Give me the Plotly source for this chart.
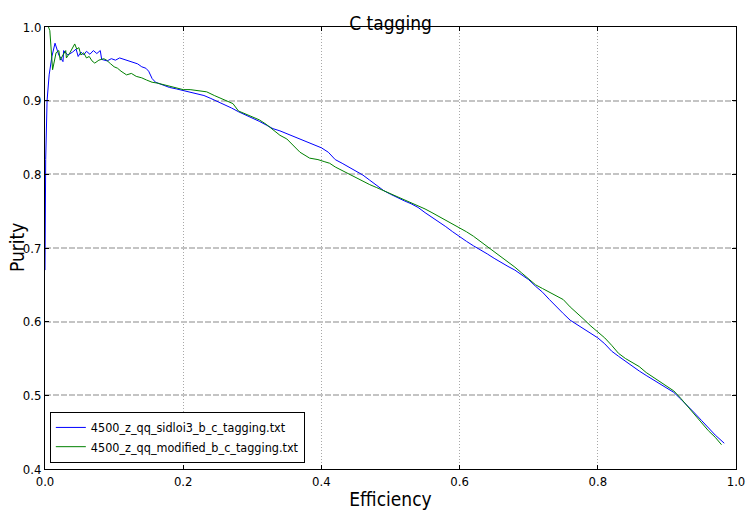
import plotly.graph_objects as go

title_text = "C tagging"
x_label = "Efficiency"
y_label = "Purity"
name_blue = "4500_z_qq_sidloi3_b_c_tagging.txt"
name_green = "4500_z_qq_modified_b_c_tagging.txt"

x_ticks = [0.0, 0.2, 0.4, 0.6, 0.8, 1.0]
y_ticks = [0.4, 0.5, 0.6, 0.7, 0.8, 0.9, 1.0]

blue_x = [0.000, 0.001, 0.003, 0.006, 0.010, 0.0145, 0.020, 0.026, 0.027, 0.033, 0.040, 0.045, 0.048,
          0.052, 0.056, 0.060, 0.065, 0.070, 0.075, 0.080, 0.082, 0.090, 0.096, 0.102, 0.108, 0.114,
          0.120, 0.127, 0.134, 0.140, 0.146, 0.150, 0.155, 0.160, 0.170, 0.180, 0.190, 0.200, 0.210,
          0.220, 0.230, 0.240, 0.250, 0.260, 0.270, 0.280, 0.290, 0.300, 0.310, 0.320, 0.330, 0.340,
          0.350, 0.360, 0.370, 0.380, 0.390, 0.400, 0.410, 0.420, 0.430, 0.440, 0.450, 0.460, 0.470,
          0.480, 0.490, 0.500, 0.510, 0.520, 0.530, 0.540, 0.550, 0.560, 0.570, 0.580, 0.590, 0.600,
          0.610, 0.620, 0.630, 0.640, 0.650, 0.660, 0.670, 0.680, 0.690, 0.700, 0.710, 0.720, 0.730,
          0.740, 0.750, 0.760, 0.770, 0.780, 0.790, 0.800, 0.810, 0.820, 0.830, 0.840, 0.850, 0.860,
          0.870, 0.880, 0.890, 0.900, 0.910, 0.920, 0.930, 0.940, 0.950, 0.960, 0.970, 0.983]
blue_y = [0.670, 0.820, 0.900, 0.935, 0.960, 0.978, 0.962, 0.953, 0.968, 0.962, 0.966, 0.970, 0.960,
          0.966, 0.962, 0.967, 0.963, 0.968, 0.964, 0.968, 0.956, 0.954, 0.957, 0.955, 0.958, 0.956,
          0.954, 0.952, 0.950, 0.946, 0.944, 0.940, 0.930, 0.925, 0.921, 0.918, 0.916, 0.914, 0.912,
          0.909, 0.907, 0.903, 0.899, 0.895, 0.890, 0.885, 0.881, 0.877, 0.872, 0.867, 0.862, 0.859,
          0.855, 0.851, 0.847, 0.843, 0.840, 0.836, 0.830, 0.820, 0.815, 0.810, 0.805, 0.799, 0.792,
          0.785, 0.778, 0.773, 0.768, 0.764, 0.760, 0.755, 0.748, 0.742, 0.736, 0.729, 0.722, 0.715,
          0.709, 0.703, 0.698, 0.692, 0.686, 0.680, 0.675, 0.670, 0.664, 0.657, 0.648, 0.640, 0.630,
          0.620, 0.611, 0.602, 0.596, 0.590, 0.583, 0.578, 0.570, 0.560, 0.553, 0.546, 0.539, 0.533,
          0.527, 0.521, 0.515, 0.510, 0.504, 0.495, 0.486, 0.476, 0.466, 0.456, 0.446, 0.435]

green_x = [0.005, 0.007, 0.011, 0.016, 0.020, 0.022, 0.026, 0.030, 0.031, 0.036, 0.043, 0.046, 0.049,
           0.052, 0.056, 0.060, 0.064, 0.068, 0.072, 0.078, 0.085, 0.089, 0.095, 0.100, 0.105, 0.110,
           0.118, 0.125, 0.132, 0.140, 0.147, 0.155, 0.162, 0.170, 0.180, 0.190, 0.200, 0.210, 0.220,
           0.234, 0.245, 0.255, 0.265, 0.272, 0.280, 0.290, 0.300, 0.310, 0.320, 0.330, 0.340, 0.350,
           0.360, 0.369, 0.383, 0.395, 0.405, 0.412, 0.420, 0.430, 0.440, 0.450, 0.460, 0.470, 0.480,
           0.490, 0.500, 0.510, 0.520, 0.530, 0.540, 0.550, 0.560, 0.570, 0.580, 0.590, 0.600, 0.610,
           0.620, 0.630, 0.640, 0.650, 0.660, 0.670, 0.680, 0.690, 0.700, 0.710, 0.720, 0.730, 0.740,
           0.750, 0.760, 0.770, 0.780, 0.790, 0.800, 0.810, 0.820, 0.830, 0.840, 0.850, 0.860, 0.870,
           0.880, 0.890, 0.900, 0.910, 0.920, 0.930, 0.940, 0.950, 0.960, 0.970, 0.979]
green_y = [1.000, 0.995, 0.942, 0.965, 0.968, 0.955, 0.962, 0.968, 0.958, 0.965, 0.977, 0.970, 0.972,
           0.962, 0.965, 0.958, 0.960, 0.954, 0.951, 0.955, 0.957, 0.955, 0.950, 0.946, 0.944, 0.940,
           0.935, 0.937, 0.933, 0.931, 0.928, 0.925, 0.924, 0.922, 0.920, 0.917, 0.915, 0.915, 0.914,
           0.912, 0.907, 0.903, 0.899, 0.896, 0.886, 0.882, 0.879, 0.874, 0.868, 0.860, 0.853, 0.848,
           0.838, 0.830, 0.822, 0.820, 0.817, 0.815, 0.810, 0.805, 0.800, 0.795, 0.790, 0.786, 0.782,
           0.778, 0.774, 0.770, 0.766, 0.762, 0.758, 0.753, 0.748, 0.743, 0.737, 0.732, 0.727, 0.722,
           0.716, 0.709, 0.702, 0.696, 0.689, 0.682, 0.674, 0.666, 0.658, 0.650, 0.645, 0.640, 0.636,
           0.630, 0.620, 0.612, 0.603, 0.594, 0.586, 0.578, 0.568, 0.557, 0.550, 0.545, 0.539, 0.531,
           0.525, 0.519, 0.513, 0.506, 0.496, 0.485, 0.473, 0.462, 0.452, 0.443, 0.433]

FONT = "DejaVu Sans Condensed, DejaVu Sans, sans-serif"

fig = go.Figure()
fig.add_trace(go.Scatter(x=blue_x, y=blue_y, mode="lines", name=name_blue,
                         line=dict(color="#0000ff", width=1)))
fig.add_trace(go.Scatter(x=green_x, y=green_y, mode="lines", name=name_green,
                         line=dict(color="#008000", width=1)))

fig.update_layout(
    width=749, height=510,
    margin=dict(l=45, r=13, t=27, b=41),
    paper_bgcolor="white", plot_bgcolor="white",
    font=dict(family=FONT, size=13, color="black"),
    title=dict(text=title_text, x=0.5, xref="paper", xanchor="center",
               y=1, yref="paper", yanchor="bottom", pad=dict(b=-3),
               font=dict(family=FONT, size=19, color="black")),
    showlegend=True,
    legend=dict(x=0.007, y=0.014, xanchor="left", yanchor="bottom",
                bordercolor="black", borderwidth=1, bgcolor="white",
                font=dict(family=FONT, size=12.5), itemwidth=30,
                tracegroupgap=0),
    annotations=[dict(text=y_label, textangle=-90, xref="paper", yref="paper",
                      x=-0.0405, y=0.5, xanchor="center", yanchor="middle",
                      showarrow=False, font=dict(family=FONT, size=19, color="black"))],
)
fig.update_xaxes(
    range=[0, 1], tickvals=x_ticks, ticktext=[f"{v:.1f}" for v in x_ticks],
    showline=True, linecolor="black", linewidth=1, mirror="ticks",
    ticks="inside", ticklen=4, tickcolor="black",
    showgrid=True, gridcolor="#a8a8a8", gridwidth=1, griddash="1px,2px",
    zeroline=False, automargin=False,
    title=dict(text=x_label, font=dict(family=FONT, size=19), standoff=6),
    tickfont=dict(family=FONT, size=13),
)
fig.update_yaxes(
    range=[0.4, 1.0], tickvals=y_ticks, ticktext=[f"{v:.1f}" for v in y_ticks],
    showline=True, linecolor="black", linewidth=1, mirror="ticks",
    ticks="inside", ticklen=4, tickcolor="black",
    showgrid=True, gridcolor="#c4c4c4", gridwidth=1.5, griddash="6px,2px",
    zeroline=False, automargin=False,
    tickfont=dict(family=FONT, size=13),
)

fig.write_html("out.html")
